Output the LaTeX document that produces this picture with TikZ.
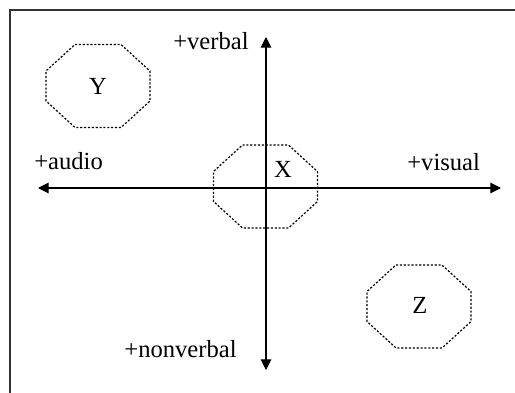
\documentclass[tikz,border=0pt]{standalone}
\usepackage{fontspec}
\setmainfont{Liberation Serif}
\usetikzlibrary{arrows.meta}

\tikzset{
  octa/.style={dash pattern=on 1.2pt off 1pt, line width=0.7pt},
  axis/.style={line width=0.6pt, {Triangle[length=6pt,width=6pt]}-{Triangle[length=6pt,width=6pt]}},
  lbl/.style={font=\fontsize{14}{16}\selectfont, inner sep=0pt},
  pics/octagon/.style={code={
    \draw[octa] (-23,-41.5) -- (23,-41.5) -- (52,-15) -- (52,15) -- (23,41.5)
      -- (-23,41.5) -- (-52,15) -- (-52,-15) -- cycle;
  }}
}

\begin{document}
\begin{tikzpicture}[x=0.02cm, y=-0.02cm]
\useasboundingbox (0,0) rectangle (515,393);

% Frame (top and left edges only)
\draw[line width=0.9pt, black!80] (515,10) -- (10,10) -- (10,393);

% Regions
\pic at (98,86) {octagon};
\pic at (265.5,186.5) {octagon};
\pic at (419,306.5) {octagon};

\node[lbl] (y) at (98,86) {Y};
\node[lbl] (x) at (283,169) {X};
\node[lbl] (z) at (420,305) {Z};

% Axis ends
\coordinate (audio) at (38,188);
\coordinate (visual) at (501,188);
\coordinate (verbal) at (266,37);
\coordinate (nonverbal) at (266,370);

% Axes
\draw[axis] (audio) -- (visual);
\draw[axis] (nonverbal) -- (verbal);

% Axis labels
\node[lbl, anchor=base east] (verballbl) at (249,49) {+verbal};
\node[lbl, anchor=base west] (audiolbl) at (34,169) {+audio};
\node[lbl, anchor=base west] (visuallbl) at (407,170) {+visual};
\node[lbl, anchor=base east] (nonverballbl) at (237,357) {+nonverbal};

\end{tikzpicture}
\end{document}
